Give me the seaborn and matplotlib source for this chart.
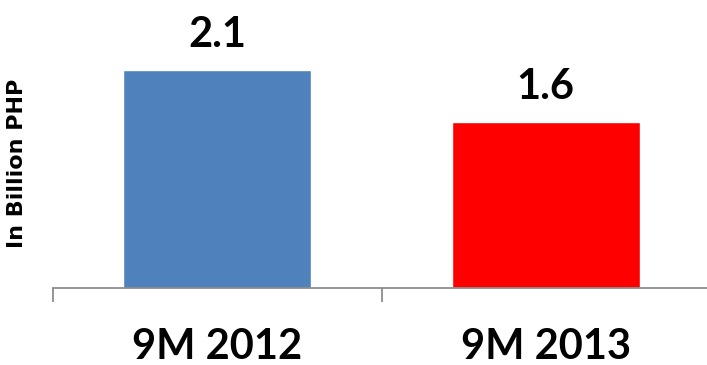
import matplotlib
matplotlib.use("Agg")
import matplotlib.pyplot as plt
import seaborn as sns
import pandas as pd

periods = ["9M 2012", "9M 2013"]
values = [2.1, 1.6]
bar_colors = ["#4F81BD", "#FF0000"]

sns.set_theme(style="white")
plt.rcParams["font.family"] = ["Lato", "DejaVu Sans"]

df = pd.DataFrame({"period": periods, "value": values})

fig = plt.figure(figsize=(7.07, 3.65), dpi=100)
ax = fig.add_axes([53 / 707, 77 / 365, 657 / 707, 288 / 365])

sns.barplot(data=df, x="period", y="value", hue="period", palette=bar_colors,
            width=0.572, saturation=1, legend=False, ax=ax)

ax.set_xlim(-0.5, 1.5)
ax.set_ylim(0, 2.78)

# value labels above each bar
for i, v in enumerate(values):
    ax.annotate(f"{v:.1f}", (i, v), xytext=(0, 17), textcoords="offset points",
                ha="center", va="baseline", fontsize=30, fontweight="bold", color="black")

for s in ["top", "right", "left"]:
    ax.spines[s].set_visible(False)
ax.spines["bottom"].set_color("#8c8c8c")
ax.spines["bottom"].set_linewidth(1.3)

ax.set_yticks([])
ax.set_xticks([0, 1])
ax.set_xticklabels(periods, fontsize=30, fontweight="bold", color="black", va="baseline")
ax.tick_params(axis="x", which="major", length=0, pad=51)
# category separators on the axis
ax.set_xticks([-0.5, 0.5, 1.5], minor=True)
ax.tick_params(axis="x", which="minor", bottom=True, length=10, width=1.3,
               color="#8c8c8c", direction="out")

ax.set_xlabel("")
ax.set_ylabel("In Billion PHP", fontsize=16, fontweight="bold", color="black",
              family=["DejaVu Sans"])
ax.yaxis.set_label_coords(-0.039, 0.434)

fig.savefig("out.png", dpi=100)
